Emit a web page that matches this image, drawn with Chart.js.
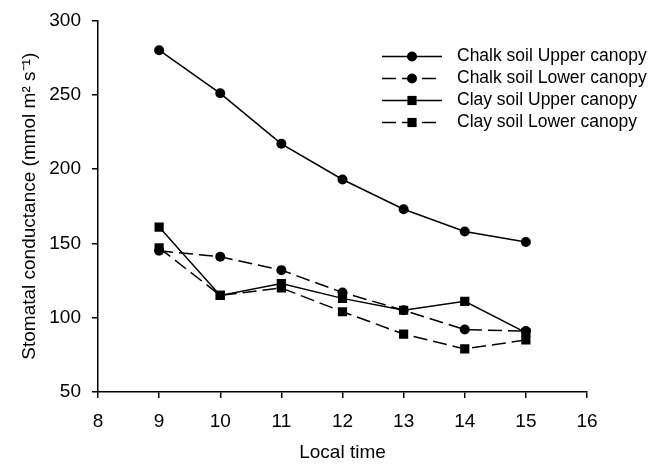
<!DOCTYPE html>
<html>
<head>
<meta charset="utf-8">
<script src="https://cdn.jsdelivr.net/npm/chart.js@4/dist/chart.umd.min.js"></script>
<style>
  html, body { margin: 0; padding: 0; background: #fff; }
  #wrap { width: 650px; height: 464px; }
</style>
</head>
<body>
<div id="wrap"><canvas id="gsChart" width="650" height="464"></canvas></div>
<script>
const times = [9, 10, 11, 12, 13, 14, 15];
const chalkUpper = [280, 251, 217, 193, 173, 158, 151];
const chalkLower = [145, 141, 132, 117, 105, 92, 91];
const clayUpper = [161, 115, 123, 113, 105, 111, 90];
const clayLower = [147, 115, 120, 104, 89, 79, 85];
const seriesNames = ["Chalk soil Upper canopy", "Chalk soil Lower canopy", "Clay soil Upper canopy", "Clay soil Lower canopy"];

const FONT = "'Liberation Sans', Arial, sans-serif";
const DASH = [14, 6];

function pts(vals) {
  return times.map((t, i) => ({ x: t, y: vals[i] }));
}

function makeSet(label, vals, style, dashed) {
  return {
    label: label,
    data: pts(vals),
    borderColor: "#000",
    backgroundColor: "#000",
    borderWidth: 1.5,
    borderDash: dashed ? DASH : [],
    pointStyle: style,
    pointRadius: style === "rect" ? 6.5 : 5,
    pointBorderWidth: 0,
    tension: 0
  };
}

// legend drawn as line + marker, like the original figure
const lineLegend = {
  id: "lineLegend",
  afterDraw(chart) {
    const ctx = chart.ctx;
    const area = chart.chartArea;
    const x0 = area.right - 205;
    const y0 = area.top + 36;
    chart.data.datasets.forEach((ds, i) => {
      const y = y0 + i * 22;
      ctx.save();
      ctx.strokeStyle = "#000";
      ctx.lineWidth = 1.5;
      ctx.setLineDash(ds.borderDash);
      ctx.beginPath();
      ctx.moveTo(x0, y);
      ctx.lineTo(x0 + 60, y);
      ctx.stroke();
      ctx.setLineDash([]);
      ctx.fillStyle = "#000";
      Chart.helpers.drawPoint(ctx, { pointStyle: ds.pointStyle, radius: ds.pointRadius, borderWidth: 0 }, x0 + 30, y);
      ctx.font = "17.5px " + FONT;
      ctx.textAlign = "left";
      ctx.textBaseline = "middle";
      ctx.fillText(ds.label, x0 + 75, y);
      ctx.restore();
    });
  }
};

new Chart(document.getElementById("gsChart"), {
  type: "line",
  data: {
    datasets: [
      makeSet(seriesNames[0], chalkUpper, "circle", false),
      makeSet(seriesNames[1], chalkLower, "circle", true),
      makeSet(seriesNames[2], clayUpper, "rect", false),
      makeSet(seriesNames[3], clayLower, "rect", true)
    ]
  },
  options: {
    responsive: false,
    animation: false,
    layout: { padding: { top: 12, right: 63, left: 0, bottom: 0 } },
    plugins: {
      legend: { display: false },
      tooltip: { enabled: false }
    },
    scales: {
      x: {
        type: "linear",
        min: 8,
        max: 16,
        ticks: { stepSize: 1, color: "#000", padding: 12, font: { family: FONT, size: 19 } },
        grid: { drawOnChartArea: false, drawTicks: true, tickLength: 6, color: "#000", lineWidth: 1.5 },
        border: { color: "#000", width: 1.5 },
        title: { display: true, text: "Local time", color: "#000", padding: { top: 10, bottom: 0 }, font: { family: FONT, size: 19 } },
        afterFit(scale) { scale.height = 72; }
      },
      y: {
        min: 50,
        max: 300,
        ticks: { stepSize: 50, color: "#000", padding: 11, font: { family: FONT, size: 19, lineHeight: 1 } },
        grid: { drawOnChartArea: false, drawTicks: true, tickLength: 6, color: "#000", lineWidth: 1.5 },
        border: { color: "#000", width: 1.5 },
        title: { display: true, text: "Stomatal conductance (mmol m² s⁻¹)", color: "#000", padding: { top: 18, bottom: 0 }, font: { family: FONT, size: 19 } },
        afterFit(scale) { scale.width = 98; }
      }
    }
  },
  plugins: [lineLegend]
});
</script>
</body>
</html>
